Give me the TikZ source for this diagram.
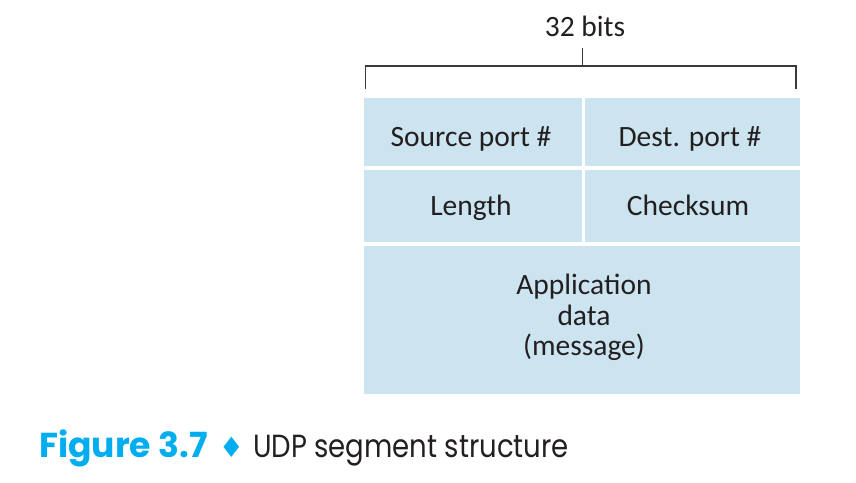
\documentclass[tikz,border=0pt]{standalone}
\usepackage{fontspec}
\setmainfont{Carlito}
\newfontfamily\capfont{Poppins}[FakeStretch=0.86]
\newfontfamily\capfontbold{Poppins}[UprightFont=* Bold]
\newfontfamily\symfont{DejaVu Sans}
\definecolor{cellblue}{HTML}{CCE4EF}
\definecolor{ink}{HTML}{231F20}
\definecolor{figcyan}{HTML}{00AEEF}
\definecolor{brk}{HTML}{3A3A3A}
\tikzset{
  cell/.style={fill=cellblue, draw=none, inner sep=0pt, rectangle},
  txt/.style={font=\fontsize{29.5}{33}\selectfont, text=ink, inner sep=0pt, anchor=base},
  bracket/.style={draw=brk, line width=1.4pt},
}
\begin{document}
\begin{tikzpicture}[x=1pt,y=-1pt]
\useasboundingbox[fill=white] (0,0) rectangle (856,482);
% cells
\node[cell, minimum width=217.5pt, minimum height=68.5pt] (src) at (472.75,131.75) {};
\node[cell, minimum width=215pt, minimum height=68.5pt] (dst) at (692.5,131.75) {};
\node[cell, minimum width=217.5pt, minimum height=72.5pt] (len) at (472.75,205.75) {};
\node[cell, minimum width=215pt, minimum height=72.5pt] (chk) at (692.5,205.75) {};
\node[cell, minimum width=436pt, minimum height=148pt] (app) at (582,319.5) {};
% texts
\node[txt] (tsrc) at (471,146) {Source port \#};
\node[txt] (tdst) at (690,146) {Dest. port \#};
\node[txt] (tlen) at (471,215.7) {Length};
\node[txt] (tchk) at (688,215.7) {Checksum};
\node[txt] (ta1) at (584,294) {Application};
\node[txt] (ta2) at (584,325) {data};
\node[txt] (ta3) at (584,355) {(message)};
% bracket
\coordinate (bl) at (365.7,89);
\coordinate (blt) at (365.7,66);
\coordinate (br) at (796,89);
\coordinate (brt) at (796,66);
\coordinate (bm) at (582.7,66);
\node[txt] (bits) at (585,36.7) {32 bits};
\coordinate (bmt) at (582.7,48);
\draw[bracket] (bl) -- (blt) -- (brt) -- (br);
\draw[bracket] (bm) -- (bmt);
% caption
\node[inner sep=0pt, anchor=base west, text=figcyan, font=\capfontbold\fontsize{34.6}{38}\selectfont] (fig) at (39,457.7) {Figure 3.7};
\node[inner sep=0pt, anchor=base, text=figcyan, font=\symfont\fontsize{28}{30}\selectfont] (dia) at (231.5,457.7) {♦};
\node[inner sep=0pt, anchor=base west, text=ink, font=\capfont\fontsize{32}{35}\selectfont] (cap) at (253,457.7) {UDP segment structure};
\end{tikzpicture}
\end{document}
